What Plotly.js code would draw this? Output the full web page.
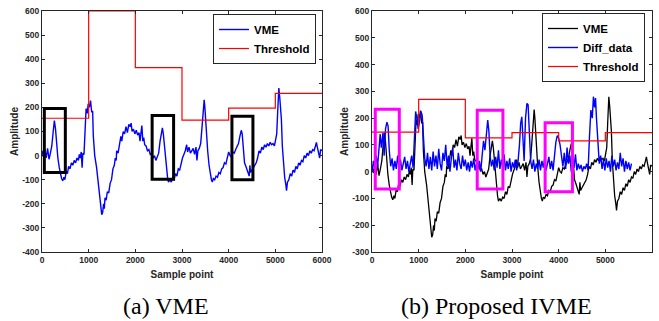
<!DOCTYPE html>
<html>
<head>
<meta charset="utf-8">
<script src="https://cdn.plot.ly/plotly-3.0.1.min.js"></script>
<style>html,body{margin:0;padding:0;background:#fff;}#chart{width:659px;height:321px;}</style>
</head>
<body>
<div id="chart"></div>
<script>
// VME signal (sample point, amplitude)
const vmeX = [0,30,60,90,120,150,180,210,240,265,290,315,340,370,400,420,445,470,490,520,545,570,600,630,660,690,720,750,780,800,820,840,860,875,900,920,945,970,990,1015,1040,1065,1085,1100,1130,1170,1200,1230,1260,1280,1300,1320,1335,1350,1375,1400,1430,1460,1490,1520,1550,1570,1590,1600,1630,1660,1690,1710,1740,1770,1800,1830,1860,1890,1910,1930,1960,1990,2020,2050,2080,2100,2120,2140,2160,2180,2200,2230,2260,2290,2320,2350,2380,2410,2440,2470,2500,2530,2560,2580,2600,2630,2660,2690,2710,2740,2770,2800,2830,2860,2890,2920,2950,2980,3010,3040,3070,3100,3120,3150,3180,3210,3240,3270,3300,3320,3340,3370,3400,3430,3460,3475,3490,3520,3550,3580,3610,3630,3650,3670,3700,3730,3760,3790,3820,3850,3880,3910,3940,3970,4000,4030,4060,4090,4120,4150,4180,4210,4240,4270,4290,4310,4340,4370,4400,4420,4440,4455,4470,4500,4530,4560,4590,4620,4650,4680,4710,4740,4770,4800,4830,4860,4890,4920,4950,4980,5000,5030,5050,5075,5095,5115,5130,5150,5170,5200,5225,5240,5260,5290,5320,5350,5380,5410,5440,5470,5500,5530,5560,5590,5620,5650,5680,5710,5740,5770,5800,5830,5860,5880,5900,5920,5950,5970,6000];
const vmeY = [20,-5,25,-10,30,-15,10,40,100,145,110,40,-10,-50,-85,-95,-105,-90,-100,-65,-75,-45,-55,-30,-40,-20,-30,-10,-20,5,-10,15,-50,10,5,80,195,175,215,200,228,180,185,80,0,-50,-100,-145,-210,-245,-235,-200,-220,-175,-185,-150,-155,-115,-100,-55,-40,-10,-20,20,10,50,80,60,100,90,120,95,130,120,135,100,110,90,105,85,95,60,95,125,60,75,45,40,20,25,5,10,-10,0,-20,-5,10,60,105,115,90,20,-50,-90,-110,-100,-110,-95,-100,-75,-85,-55,-60,-30,-10,5,20,45,15,35,10,20,30,5,35,-20,20,30,50,120,200,232,200,100,20,-40,-80,-100,-110,-95,-100,-85,-90,-70,-75,-55,-50,-30,-35,-10,15,0,-5,15,10,25,35,50,80,105,90,30,-30,-45,-60,-70,-85,-40,-70,-60,-50,-45,-30,-10,20,10,35,25,45,35,50,40,55,45,50,40,55,90,180,280,240,200,150,40,-30,-90,-120,-145,-110,-100,-75,-85,-60,-70,-45,-55,-30,-40,-20,-25,0,-10,10,0,20,10,25,20,40,55,35,20,-10,25,20];

// Diff_data signal (sample point, amplitude)
const diffX = [0,30,60,90,120,150,175,200,235,260,290,320,345,370,400,430,460,490,520,550,580,610,640,670,700,730,760,790,820,850,880,910,935,960,990,1020,1050,1075,1100,1130,1160,1190,1220,1250,1280,1310,1340,1370,1400,1430,1460,1490,1520,1550,1580,1610,1640,1670,1700,1730,1760,1790,1820,1850,1880,1910,1940,1970,2000,2030,2060,2090,2120,2150,2180,2210,2240,2270,2300,2330,2360,2390,2420,2450,2480,2505,2530,2560,2590,2620,2650,2680,2710,2740,2770,2800,2830,2860,2890,2920,2950,2980,3010,3040,3070,3100,3130,3160,3185,3210,3235,3260,3290,3320,3345,3370,3400,3430,3460,3490,3520,3550,3580,3610,3640,3670,3700,3730,3760,3790,3820,3850,3880,3910,3940,3970,4000,4030,4060,4090,4120,4150,4180,4210,4240,4270,4300,4330,4360,4390,4420,4450,4480,4510,4540,4570,4600,4630,4660,4690,4720,4745,4770,4790,4810,4840,4870,4900,4930,4960,4990,5020,5050,5080,5110,5140,5170,5200,5230,5260,5290,5320,5350,5380,5410,5440,5470,5500,5530,5560];
const diffY = [0,40,10,60,20,100,140,90,145,60,160,185,170,80,20,50,5,40,10,60,15,45,5,30,55,10,40,0,35,60,15,120,225,200,160,190,225,210,120,50,20,70,10,55,5,75,20,60,10,85,30,5,70,40,100,20,60,0,50,90,15,45,5,70,30,10,60,20,45,5,35,0,40,15,50,5,30,10,40,0,60,115,80,145,193,150,60,20,45,5,55,15,80,10,45,20,65,5,40,10,50,0,35,15,45,5,40,100,180,205,120,40,200,255,250,120,40,10,45,0,30,10,45,5,40,15,50,5,35,55,10,40,5,70,110,135,125,100,60,20,70,10,90,30,60,0,50,15,65,5,30,10,25,0,20,10,30,5,130,230,200,280,240,275,200,90,30,60,10,45,5,50,15,40,0,60,20,45,5,35,10,70,20,50,0,40,10,35,5,30];

// Thresholds: step edges and levels
const stepEdges = [0,1000,2000,3000,4000,5000,6000];
const thrA = [155,600,365,147,197,258];
const thrB = [148,270,126,146,115,146];

// Highlight boxes [x0, x1, y0, y1]
const boxesA = [[50,500,-70,195],[2360,2820,-98,166],[4070,4520,-100,163]];
const boxesB = [[70,585,-65,233],[2255,2805,-65,229],[3710,4295,-75,183]];

const captions = ['(a) VME','(b) Proposed IVME'];

function stepLine(edges, levels){
  const x=[],y=[];
  for(let i=0;i<levels.length;i++){x.push(edges[i],edges[i+1]);y.push(levels[i],levels[i]);}
  return {x,y};
}
const sA = stepLine(stepEdges, thrA), sB = stepLine(stepEdges, thrB);

const traces = [
  {x:vmeX,y:vmeY,type:'scatter',mode:'lines',name:'VME',line:{color:'#0000ff',width:1.4},xaxis:'x',yaxis:'y',legend:'legend'},
  {x:sA.x,y:sA.y,type:'scatter',mode:'lines',name:'Threshold',line:{color:'#ff0000',width:1.2},xaxis:'x',yaxis:'y',legend:'legend'},
  {x:vmeX,y:vmeY,type:'scatter',mode:'lines',name:'VME',line:{color:'#000000',width:1.3},xaxis:'x2',yaxis:'y2',legend:'legend2'},
  {x:diffX,y:diffY,type:'scatter',mode:'lines',name:'Diff_data',line:{color:'#0000ff',width:1.4},xaxis:'x2',yaxis:'y2',legend:'legend2'},
  {x:sB.x,y:sB.y,type:'scatter',mode:'lines',name:'Threshold',line:{color:'#ff0000',width:1.2},xaxis:'x2',yaxis:'y2',legend:'legend2'}
];

const shapes = [];
boxesA.forEach(b=>shapes.push({type:'rect',xref:'x',yref:'y',x0:b[0],x1:b[1],y0:b[2],y1:b[3],line:{color:'#000000',width:3},layer:'above'}));
boxesB.forEach(b=>shapes.push({type:'rect',xref:'x2',yref:'y2',x0:b[0],x1:b[1],y0:b[2],y1:b[3],line:{color:'#ff00ff',width:3},layer:'above'}));

const tickFont = {family:'Liberation Sans, Arial, sans-serif',size:8.5,color:'#262626',weight:'bold'};
const titleFont = {family:'Liberation Sans, Arial, sans-serif',size:10,color:'#262626',weight:'bold'};
const legFont = {family:'Liberation Sans, Arial, sans-serif',size:11.5,color:'#000',weight:'bold'};

function xax(domain, anchor){
  return {domain, anchor, range:[0,6000], tickvals:[0,1000,2000,3000,4000,5000,6000], ticktext:['0','1000','2000','3000','4000','5000','6000'],
    ticks:'inside', ticklen:3, tickcolor:'#262626', showline:true, linecolor:'#262626', linewidth:1, mirror:'ticks',
    showgrid:false, zeroline:false, tickfont:tickFont, title:{text:'Sample point', font:titleFont, standoff:6}};
}
function yax(domain, anchor, range, vals){
  return {domain, anchor, range, tickvals:vals, ticktext:vals.map(String),
    ticks:'inside', ticklen:3, tickcolor:'#262626', showline:true, linecolor:'#262626', linewidth:1, mirror:'ticks',
    showgrid:false, zeroline:false, tickfont:tickFont, title:{text:'Amplitude', font:titleFont, standoff:1}};
}
const yvalsA = [-400,-300,-200,-100,0,100,200,300,400,500,600];
const yvalsB = [-300,-200,-100,0,100,200,300,400,500,600];

const W=659,H=321;
const layout = {
  width:W, height:H, margin:{l:0,r:0,t:0,b:0}, paper_bgcolor:'#fff', plot_bgcolor:'#fff', showlegend:true,
  xaxis: xax([42/W,322/W],'y'),
  yaxis: yax([(H-252)/H,(H-11)/H],'x',[-400,600],yvalsA),
  xaxis2: xax([372/W,652/W],'y2'),
  yaxis2: yax([(H-252)/H,(H-11)/H],'x2',[-300,600],yvalsB),
  legend:{x:316/W,y:(H-14)/H,xanchor:'right',yanchor:'top',bgcolor:'#fff',bordercolor:'#262626',borderwidth:1,font:legFont,tracegroupgap:0,itemwidth:30},
  legend2:{x:645/W,y:(H-13)/H,xanchor:'right',yanchor:'top',bgcolor:'#fff',bordercolor:'#262626',borderwidth:1,font:legFont,tracegroupgap:0,itemwidth:30},
  shapes,
  annotations:[
    {text:captions[0],xref:'paper',yref:'paper',x:166/W,y:(H-306)/H,xanchor:'center',yanchor:'middle',showarrow:false,font:{family:'Liberation Serif, Times New Roman, serif',size:24,color:'#000'}},
    {text:captions[1],xref:'paper',yref:'paper',x:496/W,y:(H-306)/H,xanchor:'center',yanchor:'middle',showarrow:false,font:{family:'Liberation Serif, Times New Roman, serif',size:24,color:'#000'}}
  ]
};
Plotly.newPlot('chart', traces, layout, {displayModeBar:false, staticPlot:true});
</script>
</body>
</html>
